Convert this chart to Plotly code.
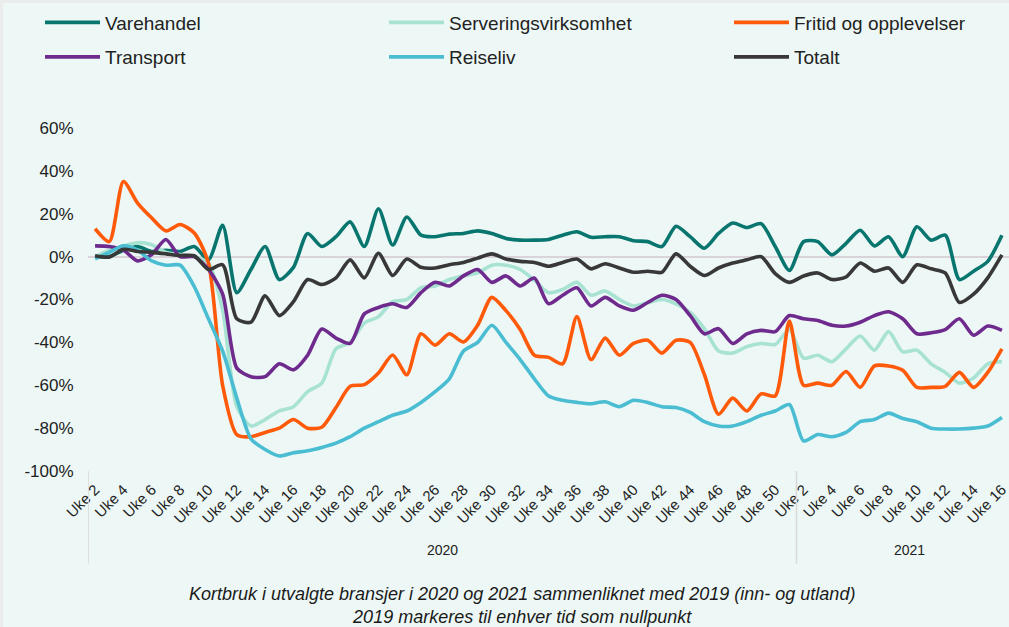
import plotly.graph_objects as go

# ---- data -------------------------------------------------------------
weeks_2020 = list(range(2, 52))    # Uke 2 .. Uke 51
weeks_2021 = list(range(2, 17))    # Uke 2 .. Uke 16
week_labels = [f"Uke {w}" for w in weeks_2020] + [f"Uke {w}" for w in weeks_2021]
years = ["2020", "2021"]

varehandel = [0, 0, 3, 4.7, 2.4, 3, 2.4, 4.7, -1.5, 14.6, -16.8, -6, 4.7, -10.7, -5, 10.8, 4.7, 9.3,
              16.2, 4.7, 22.3, 5.4, 18.5, 10, 9.3, 10.5, 10.8, 12, 10.8, 8.5, 7.7, 7.7, 8, 10, 11.6, 9,
              9.3, 9.3, 7.4, 7, 4.7, 14.2, 9.3, 3.9, 10.8, 15.7, 13.6, 15.4, 4.7, -6.4, 7, 7, 0.8, 6.2,
              12.3, 5, 9.3, 0, 13.9, 7.7, 10, -10.7, -6.8, -2.2, 10]
servering = [0, 3, 5, 6.5, 5.5, 2, 1, 0, -3, -25, -70, -79, -76, -72, -70, -63, -59, -43, -40, -31,
             -28, -21, -20, -14.5, -13.7, -10.7, -9, -7.6, -4, -4, -6, -11, -16.8, -15.3, -12, -18, -16,
             -20, -23, -21.5, -20, -22, -26, -33.6, -44, -45, -42, -40.5, -41, -34, -47.4, -46, -49, -43,
             -37, -43.6, -35, -44.4, -43.6, -50, -54, -59, -56.6, -50, -49]
fritid = [13, 7, 35, 25, 18, 12, 15, 11, -3, -60, -83, -84, -82, -80, -76, -80, -79.6, -70.4, -60.5,
          -59.7, -54.3, -45.9, -55.1, -36, -41.3, -36, -39.8, -32, -19, -25.2, -34, -46, -47, -50, -28,
          -48, -38, -46, -40.5, -39, -45, -39, -40, -55, -73.5, -66, -72, -64, -65, -30, -60, -59, -60,
          -53.6, -61, -51, -51, -53, -61, -61, -60.5, -54, -61, -54, -43]
transport = [5, 4.7, 3, -2, 1, 8, 0, 0, -6, -17.5, -52, -56, -56, -50, -52.8, -46, -33.8, -38, -40.5,
             -26.7, -23.7, -22, -23.7, -16.8, -12, -13.7, -9, -6, -12, -9, -13.7, -10, -22, -18, -14.5,
             -23, -19, -23, -25, -21.4, -18, -20, -27.5, -36, -33.6, -40.5, -36, -34.4, -35, -27.5, -29,
             -29.8, -32, -32.4, -30.6, -27.5, -25.7, -29, -36, -35.5, -34, -29, -36.7, -32.4, -34.4]
reiseliv = [-1, 2, 5, 3, -2, -4, -4, -14, -29, -44, -66, -85, -90, -93, -91.5, -90.6, -89, -87, -84,
            -80, -77, -74, -72, -68, -63, -57, -44, -40, -32, -40, -48, -57, -65, -67, -68, -68.6, -67.7,
            -70, -67, -68, -70, -70.4, -72.7, -77, -79, -79, -77, -74, -72, -69, -86, -83, -84, -82, -77,
            -76, -73, -75.5, -77, -80, -80.4, -80.4, -80, -79, -75]
totalt = [0.4, -0.2, 3.4, 2.4, 2, 1.3, 0.5, 0.4, -6, -3.8, -29, -30.6, -18.3, -27.5, -21, -10.7, -13,
          -9.9, -1.5, -9.9, 1.6, -8.8, -1.1, -5, -5.3, -3.8, -2.7, -0.7, 1.3, -1.1, -2.2, -2.7, -4.5,
          -2.7, -1.1, -5.7, -3.3, -5.3, -7.3, -6.8, -7.3, 1.3, -4.5, -8.8, -5.3, -3, -1.5, 0, -7.9, -12,
          -9, -7.6, -10.7, -9.5, -3, -6.8, -5.3, -12, -3.8, -5.7, -7.6, -21.4, -17.5, -9.9, 0.8]

y_ticks = [-100, -80, -60, -40, -20, 0, 20, 40, 60]

series_names = ["Varehandel", "Serveringsvirksomhet", "Fritid og opplevelser",
                "Transport", "Reiseliv", "Totalt"]
series_values = [varehandel, servering, fritid, transport, reiseliv, totalt]
series_colors = ["#08766F", "#A8E2D2", "#FF5A0A", "#6E2A8C", "#4BBDD2", "#383838"]

title_lines = ["Kortbruk i utvalgte bransjer i 2020 og 2021 sammenliknet med 2019 (inn- og utland)",
               "2019 markeres til enhver tid som nullpunkt"]

# ---- figure -----------------------------------------------------------
OFF = 3                      # thin grey page border at top/left
W, H = 1009 - OFF, 627 - OFF
ML, MR, MT, MB = 88 - OFF, 0, 123 - OFF, 156
plot_w = W - ML - MR
plot_h = H - MT - MB


def px_x(page_x):
    return (page_x - OFF - ML) / plot_w


def px_y(page_y):
    return (H - MB - (page_y - OFF)) / plot_h


x_idx = list(range(len(week_labels)))
FONT = "Liberation Sans, Arial, sans-serif"
TXT = "#222222"
BG = "#EDF8F6"

fig = go.Figure()

legend_ids = ["legend", "legend2", "legend3", "legend4", "legend5", "legend6"]
for name, vals, col, lid in zip(series_names, series_values, series_colors, legend_ids):
    fig.add_trace(go.Scatter(
        x=x_idx, y=vals, mode="lines", name=name, legend=lid,
        line=dict(color=col, width=3.6, shape="spline", smoothing=0.7),
        hoverinfo="skip"))

# legend placement (page px)
col_px = [40, 384, 729]
row_px = [16, 51]
legends = {}
for k, lid in enumerate(legend_ids):
    r, c = divmod(k, 3)
    legends[lid] = dict(
        x=px_x(col_px[c]), xanchor="left",
        y=px_y(row_px[r]), yanchor="middle",
        bgcolor="rgba(0,0,0,0)", borderwidth=0,
        font=dict(family=FONT, size=19, color=TXT),
        orientation="h", itemwidth=55)

tickvals = x_idx[::2]
ticktext = [week_labels[i] for i in tickvals]

fig.update_layout(
    width=W, height=H,
    margin=dict(l=ML, r=MR, t=MT, b=MB, pad=0),
    paper_bgcolor=BG, plot_bgcolor=BG,
    font=dict(family=FONT, color=TXT),
    showlegend=True,
    **legends,
    xaxis=dict(
        range=[-0.5, len(week_labels) - 0.5],
        tickmode="array", tickvals=tickvals, ticktext=ticktext,
        tickangle=-45, tickfont=dict(size=15, color=TXT),
        ticks="outside", ticklen=3, tickcolor="rgba(0,0,0,0)",
        ticklabeloverflow="allow",
        showgrid=False, showline=False, zeroline=False),
    yaxis=dict(
        range=[-100, 60],
        tickmode="array", tickvals=y_ticks,
        ticktext=[f"{v}%" for v in y_ticks],
        tickfont=dict(size=17, color=TXT),
        ticks="outside", ticklen=10, tickcolor="rgba(0,0,0,0)",
        showgrid=False, showline=False,
        zeroline=True, zerolinecolor="#DAD4DA", zerolinewidth=1.5),
)

# year group separators and labels
n20 = len(weeks_2020)
n21 = len(weeks_2021)
for xs in [-0.5, n20 - 0.5]:
    fig.add_shape(type="line", xref="x", yref="paper", x0=xs, x1=xs,
                  y0=0, y1=px_y(565), line=dict(color="#D9D9D9", width=1.5))

year_centers = [(n20 - 1) / 2, n20 + (n21 - 1) / 2 + 0.5]
for yr, xc in zip(years, year_centers):
    fig.add_annotation(x=xc, xref="x", y=px_y(551), yref="paper",
                       text=yr, showarrow=False, font=dict(size=14, color=TXT),
                       xanchor="center", yanchor="middle")

fig.add_annotation(
    x=px_x(522), xref="paper", y=px_y(607), yref="paper",
    text="<br>".join(f"<i>{t}</i>" for t in title_lines),
    showarrow=False, align="center", xanchor="center", yanchor="middle",
    borderpad=0, font=dict(size=18, color="#1A1A1A"))

fig.write_html(
    "out.html",
    post_script=("document.body.style.margin='0';"
                 "document.body.style.padding='%dpx 0 0 %dpx';"
                 "document.body.style.background='#E9ECEB';"
                 "document.body.style.overflow='hidden';") % (OFF, OFF))
